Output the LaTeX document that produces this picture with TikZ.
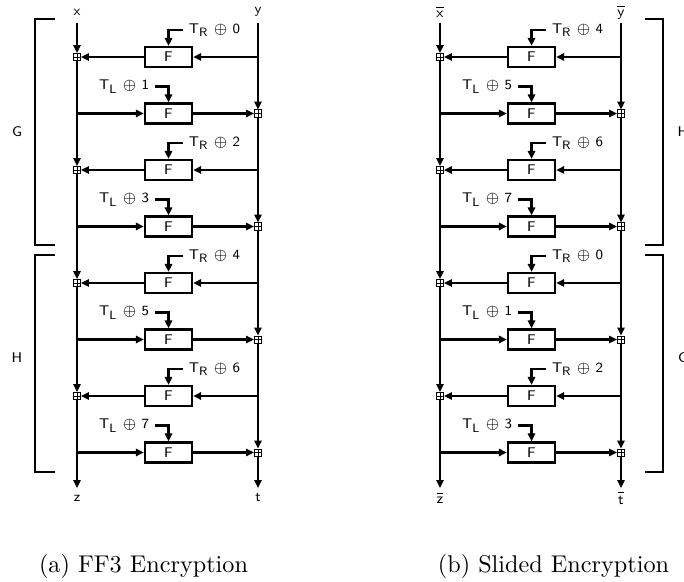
\documentclass[tikz,border=0pt]{standalone}
\usetikzlibrary{arrows.meta}
\begin{document}
\begin{tikzpicture}[x=0.413pt,y=-0.413pt,line width=0.95pt,
  lbl/.style={font=\fontsize{5.8}{6.8}\selectfont\sffamily,inner sep=1pt},
  arr/.style={-{Triangle[length=3.3pt,width=3pt]}},
  fbox/.style={draw,line width=0.95pt,minimum width=19.4pt,minimum height=8.2pt,inner sep=0pt,font=\fontsize{5.8}{6.8}\selectfont\sffamily},
  xorsq/.style={draw,line width=0.4pt,minimum size=2.9pt,inner sep=0pt,
    path picture={\draw[line width=0.4pt] (path picture bounding box.north) -- (path picture bounding box.south)
      (path picture bounding box.west) -- (path picture bounding box.east);}},
  brk/.style={line width=0.95pt},
  captxt/.style={font=\normalsize\rmfamily,anchor=base}]
\useasboundingbox (0,0) rectangle (684,582);
\foreach \d/\ox/\s/\tx/\ty/\tz/\tt in {a/0/0/{\textsf{x}}/{\textsf{y}}/{\textsf{z}}/{\textsf{t}},
                                     b/363/4/{$\overline{\mathsf{x}}$}/{$\overline{\mathsf{y}}$}/{$\overline{\mathsf{z}}$}/{$\overline{\mathsf{t}}$}}{
  \node[lbl] (in\d L) at (\ox+77,12) {\tx};
  \node[lbl] (in\d R) at (\ox+258,12) {\ty};
  \node[lbl] (out\d L) at (\ox+77,498) {\tz};
  \node[lbl] (out\d R) at (\ox+258,498) {\tt};
  \coordinate (s\d L) at (\ox+77,23);
  \coordinate (s\d R) at (\ox+258,23);
  \coordinate (e\d L) at (\ox+77,488);
  \coordinate (e\d R) at (\ox+258,488);
  \foreach \i in {1,...,8}{
    \pgfmathsetmacro{\yy}{57+(\i-1)*56.5}
    \pgfmathtruncatemacro{\tw}{mod(\s+\i-1,8)}
    \node[fbox] (F\d\i) at (\ox+168.5,\yy) {F};
    \ifodd\i
      \node[xorsq] (X\d\i) at (\ox+77,\yy) {};
      \coordinate (B\d\i) at (\ox+258,\yy);
      \coordinate (K\d\i) at (\ox+183,\yy-27);
      \node[lbl,anchor=west] (T\d\i) at ([xshift=1pt]K\d\i) {T$_{\scriptscriptstyle\mathsf{R}}$ $\oplus$ \tw};
    \else
      \node[xorsq] (X\d\i) at (\ox+258,\yy) {};
      \coordinate (B\d\i) at (\ox+77,\yy);
      \coordinate (K\d\i) at (\ox+155,\yy-27);
      \node[lbl,anchor=east] (T\d\i) at ([xshift=-1pt]K\d\i) {T$_{\scriptscriptstyle\mathsf{L}}$ $\oplus$ \tw};
    \fi
    \draw[arr] (B\d\i) -- (F\d\i);
    \draw[arr] (F\d\i) -- (X\d\i);
    \draw[arr] (K\d\i) -| (F\d\i.north);
  }
  \draw[arr] (s\d L) -- (X\d1);
  \draw[arr] (s\d R) -- (X\d2);
  \foreach \p/\q in {1/3,3/5,5/7,2/4,4/6,6/8}{
    \draw[arr] (X\d\p) -- (X\d\q);
  }
  \draw[arr] (X\d7) -- (e\d L);
  \draw[arr] (X\d8) -- (e\d R);
}
% brackets, diagram (a)
\draw[brk] (55,19) -- (35,19) -- (35,245) -- (55,245);
\draw[brk] (55,255) -- (35,255) -- (35,472) -- (55,472);
\node[lbl] (Ga) at (17,132) {G};
\node[lbl] (Ha) at (17,358) {H};
% brackets, diagram (b)
\draw[brk] (645,19) -- (663,19) -- (663,245) -- (645,245);
\draw[brk] (645,255) -- (663,255) -- (663,472) -- (645,472);
\node[lbl] (Hb) at (683,132) {H};
\node[lbl] (Gb) at (683,358) {G};
% captions
\node[captxt] (capa) at (143.5,572) {(a) FF3 Encryption};
\node[captxt] (capb) at (553.5,572) {(b) Slided Encryption};
\end{tikzpicture}
\end{document}
